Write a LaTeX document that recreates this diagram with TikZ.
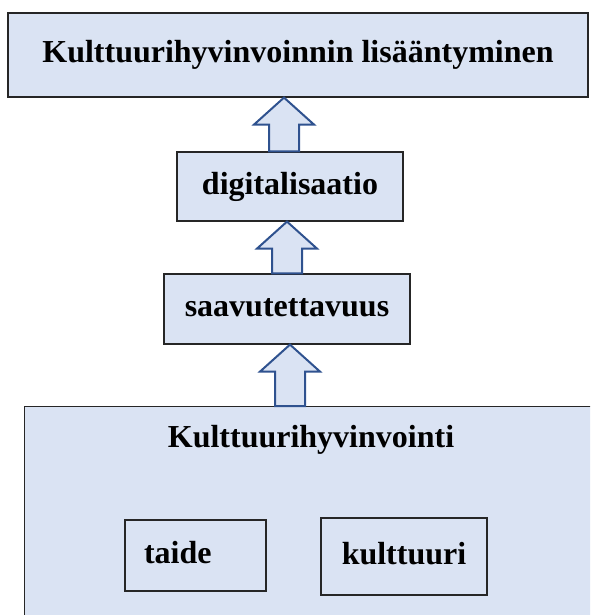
\documentclass[tikz,border=0pt]{standalone}
\usepackage{fontspec}
\setmainfont{Liberation Serif}
\usetikzlibrary{calc}

\definecolor{boxfill}{HTML}{DAE3F3}
\definecolor{arrowline}{HTML}{2F528F}

\tikzset{
  box/.style={draw=black!85, line width=1.2pt, fill=boxfill, inner sep=0pt,
    text height=22pt, text depth=7pt, font=\fontsize{32}{36}\selectfont\bfseries},
  title/.style={inner sep=0pt, anchor=base, font=\fontsize{32}{36}\selectfont\bfseries},
  blockarrow/.style={draw=arrowline, line width=2pt, fill=boxfill, line join=miter}
}

% hollow block arrow from the lower node (#1) up to the upper node (#2), centred at x=#3
\newcommand{\uparrowblock}[3]{%
  \draw[blockarrow] let \p1=(#1.north), \p2=(#2.south) in
    (#3pt-15pt,\y1) -- (#3pt-15pt,\y2-27pt) -- (#3pt-30pt,\y2-27pt) -- (#3pt,\y2)
    -- (#3pt+30pt,\y2-27pt) -- (#3pt+15pt,\y2-27pt) -- (#3pt+15pt,\y1) -- cycle;
}

\begin{document}
\begin{tikzpicture}[x=1pt, y=-1pt]
  \useasboundingbox (0,0) rectangle (590,615);
  \clip (0,0) rectangle (590,615);

  % Goal at the top
  \node[box, minimum width=580, minimum height=84] (goal) at (298,55)
    {Kulttuurihyvinvoinnin lisääntyminen};

  % Middle steps
  \node[box, minimum width=226, minimum height=69] (digi) at (290,186.5) {digitalisaatio};
  \node[box, minimum width=246, minimum height=70] (access) at (287,309) {saavutettavuus};

  % Base box (runs past the right and bottom edges)
  \node[box, anchor=north west, minimum width=640, minimum height=300]
    (wellbeing) at (24,406) {};
  \node[title] (wellbeingtitle) at (311,447) {Kulttuurihyvinvointi};

  % Inner boxes
  \node[box, minimum height=71, text width=103pt, inner xsep=19pt, align=left]
    (art) at (195.5,555.5) {taide};
  \node[box, minimum width=166, minimum height=77] (culture) at (404,556.5) {kulttuuri};

  % Arrows
  \uparrowblock{digi}{goal}{284}
  \uparrowblock{access}{digi}{287}
  \uparrowblock{wellbeing}{access}{290}

\end{tikzpicture}
\end{document}
